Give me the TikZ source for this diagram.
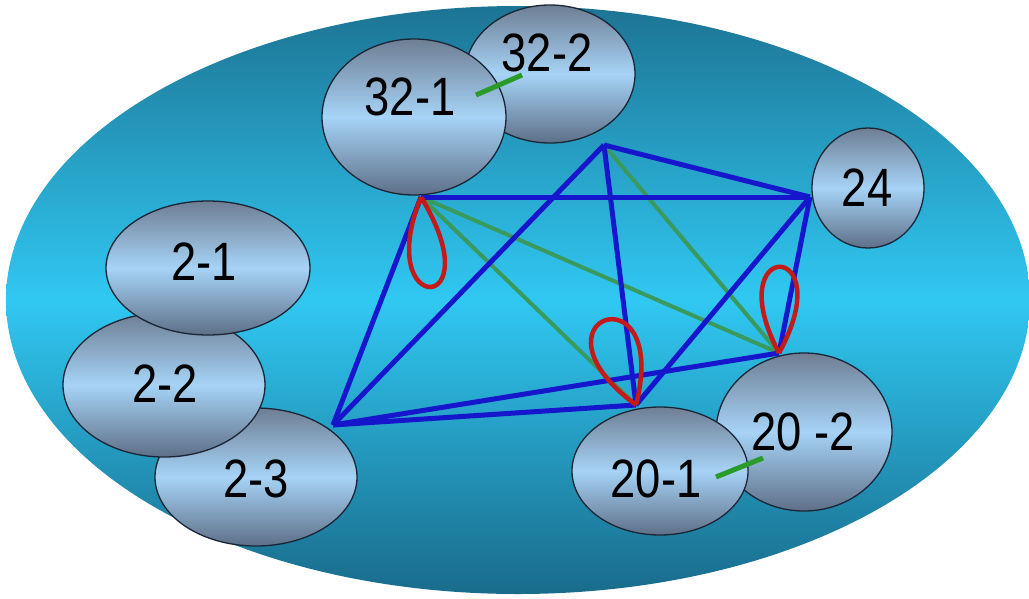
\documentclass[tikz,border=0pt]{standalone}
\usepackage{fontspec}
\setmainfont{Liberation Sans}
\newfontfamily\lblfont[FakeStretch=0.84]{Liberation Sans}
\usetikzlibrary{shapes.geometric}
\definecolor{dtop}{HTML}{1D7494}
\definecolor{dmid}{HTML}{30C8F2}
\definecolor{dbot}{HTML}{196B8B}
\definecolor{btop}{HTML}{6E7E94}
\definecolor{bmid}{HTML}{A6D3F6}
\definecolor{bbot}{HTML}{5E6F88}
\definecolor{bline}{HTML}{1A2636}
\definecolor{eblue}{HTML}{1616CC}
\definecolor{egreen}{HTML}{3A9A5E}
\definecolor{lgreen}{HTML}{2A9A2A}
\definecolor{ered}{HTML}{C41A1A}
\begin{document}
\begin{tikzpicture}[x=1pt,y=-1pt,
  dom/.style={ellipse, inner sep=0pt, top color=dtop, bottom color=dbot, middle color=dmid},
  blob/.style={ellipse, draw=bline, line width=1.3pt, inner sep=0pt, top color=btop, bottom color=bbot, middle color=bmid},
  lbl/.style={font=\lblfont\fontsize{54}{60}\selectfont, inner sep=0pt, text=black},
  bedge/.style={draw=eblue, line width=5pt, line join=round},
  gedge/.style={draw=egreen, line width=4pt},
  link/.style={draw=lgreen, line width=5pt},
  selfloop/.style={draw=ered, line width=4.5pt}]
\useasboundingbox (0,0) rectangle (1029,598);
\fill[white] (0,0) rectangle (1029,598);
% domain
\node[dom, minimum width=1024pt, minimum height=588pt] (domain) at (518,300) {};
% bubbles
\node[blob, minimum width=170pt, minimum height=138pt] (b322) at (550,74) {};
\node[blob, minimum width=184pt, minimum height=156pt] (b321) at (414,117) {};
\node[blob, minimum width=112pt, minimum height=120pt] (b24) at (868,188) {};
\node[blob, minimum width=202pt, minimum height=138pt] (b23) at (256,477) {};
\node[blob, minimum width=202pt, minimum height=144pt] (b22) at (164,385) {};
\node[blob, minimum width=204pt, minimum height=134pt] (b21) at (208,268) {};
\node[blob, minimum width=176pt, minimum height=158pt] (b202) at (804,432) {};
\node[blob, minimum width=176pt, minimum height=128pt] (b201) at (660,471) {};
% labels
\node[lbl] (t321) at (410,97) {32-1};
\node[lbl] (t322) at (547,53) {32-2};
\node[lbl] (t24) at (867,188) {24};
\node[lbl] (t21) at (204,262) {2-1};
\node[lbl] (t22) at (165,384) {2-2};
\node[lbl] (t23) at (256,479) {2-3};
\node[lbl] (t201) at (656,479) {20-1};
\node[lbl] (t202) at (803,432) {20 -2};
% graph vertices
\coordinate (A) at (421,197);
\coordinate (B) at (604,145);
\coordinate (C) at (810,197);
\coordinate (D) at (333,425);
\coordinate (E) at (636,405);
\coordinate (F) at (779,353);
% green edges
\draw[gedge] (A) -- (E);
\draw[gedge] (A) -- (F);
\draw[gedge] (B) -- (F);
% blue edges
\draw[bedge] (A) -- (C);
\draw[bedge] (A) -- (D);
\draw[bedge] (B) -- (D);
\draw[bedge] (B) -- (C);
\draw[bedge] (B) -- (E);
\draw[bedge] (D) -- (E);
\draw[bedge] (D) -- (F);
\draw[bedge] (C) -- (E);
\draw[bedge] (C) -- (F);
% self loops
\draw[selfloop] (A) .. controls (372,317) and (494,317) .. (A);
\draw[selfloop] (E) .. controls (519,318) and (671,266) .. (E);
\draw[selfloop] (F) .. controls (718,238) and (842,238) .. (F);
% short links
\coordinate (l1a) at (476,95);
\coordinate (l1b) at (522,75);
\coordinate (l2a) at (716,477);
\coordinate (l2b) at (763,458);
\draw[link] (l1a) -- (l1b);
\draw[link] (l2a) -- (l2b);
\end{tikzpicture}
\end{document}
